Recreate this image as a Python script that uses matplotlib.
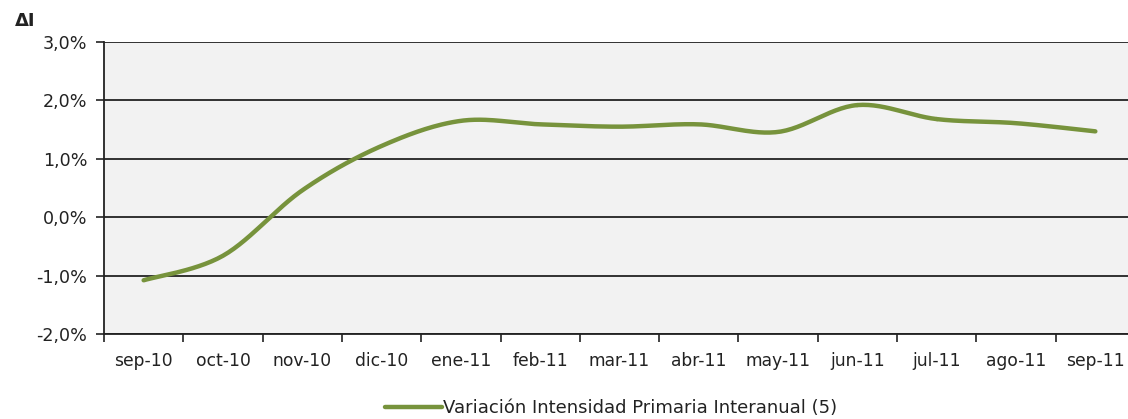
import numpy as np
import matplotlib.pyplot as plt
from matplotlib.ticker import FuncFormatter

# datos
meses = ['sep-10', 'oct-10', 'nov-10', 'dic-10', 'ene-11', 'feb-11', 'mar-11',
         'abr-11', 'may-11', 'jun-11', 'jul-11', 'ago-11', 'sep-11']
variacion = [-1.08, -0.66, 0.46, 1.22, 1.65, 1.59, 1.55, 1.59, 1.46, 1.92, 1.68, 1.61, 1.47]
etiqueta = 'Variación Intensidad Primaria Interanual (5)'


# curva suavizada tipo Excel (Catmull-Rom)
def suavizar(x, y, n=30):
    x = np.asarray(x, float)
    y = np.asarray(y, float)
    px = np.concatenate([[x[0]], x, [x[-1]]])
    py = np.concatenate([[y[0]], y, [y[-1]]])
    t = np.linspace(0, 1, n)
    xs, ys = [], []
    for i in range(1, len(px) - 2):
        for p, out in ((px, xs), (py, ys)):
            p0, p1, p2, p3 = p[i - 1], p[i], p[i + 1], p[i + 2]
            out.append(0.5 * (2 * p1 + (-p0 + p2) * t
                              + (2 * p0 - 5 * p1 + 4 * p2 - p3) * t ** 2
                              + (-p0 + 3 * p1 - 3 * p2 + p3) * t ** 3))
    return np.concatenate(xs), np.concatenate(ys)


x = np.arange(len(meses))
xs, ys = suavizar(x, variacion)

fig = plt.figure(figsize=(11.28, 4.19), dpi=100)
ax = fig.add_axes([104 / 1128, 85 / 419, 1031 / 1128, 292 / 419])
ax.set_facecolor('#f2f2f2')

linea, = ax.plot(xs, ys, color='#77933c', lw=3.2, solid_capstyle='round',
                 label=etiqueta, zorder=3)

ax.set_xlim(-0.5, len(meses) - 0.5)
ax.set_ylim(-2, 3)
ax.set_yticks(np.arange(-2, 3.1, 1))
ax.yaxis.set_major_formatter(FuncFormatter(lambda v, p: f'{v:.1f}%'.replace('.', ',')))
ax.grid(axis='y', color='#222222', lw=1.3)
ax.set_axisbelow(True)

ax.set_xticks(np.arange(len(meses) + 1) - 0.5)
ax.set_xticklabels([])
ax.set_xticks(x, minor=True)
ax.set_xticklabels(meses, minor=True)
ax.tick_params(axis='x', which='minor', length=0, pad=13, labelsize=12.3, colors='#222222')
ax.tick_params(axis='x', which='major', length=6, width=1.2, color='#222222')
ax.tick_params(axis='y', length=6, width=1.2, color='#222222', labelsize=12.6,
               labelcolor='#222222', pad=6)

for s in ['top', 'right']:
    ax.spines[s].set_visible(False)
for s in ['left', 'bottom']:
    ax.spines[s].set_color('#222222')
    ax.spines[s].set_linewidth(1.3)

fig.text(15 / 1128, 1 - 26 / 419, 'ΔI', fontsize=13, fontweight='bold', color='#222222')

fig.legend(handles=[linea], loc='center', bbox_to_anchor=(611 / 1128, 1 - 408 / 419),
           frameon=False, handlelength=3.2, handletextpad=0.05, fontsize=13,
           labelcolor='#222222')

fig.savefig('out.png', dpi=100)
